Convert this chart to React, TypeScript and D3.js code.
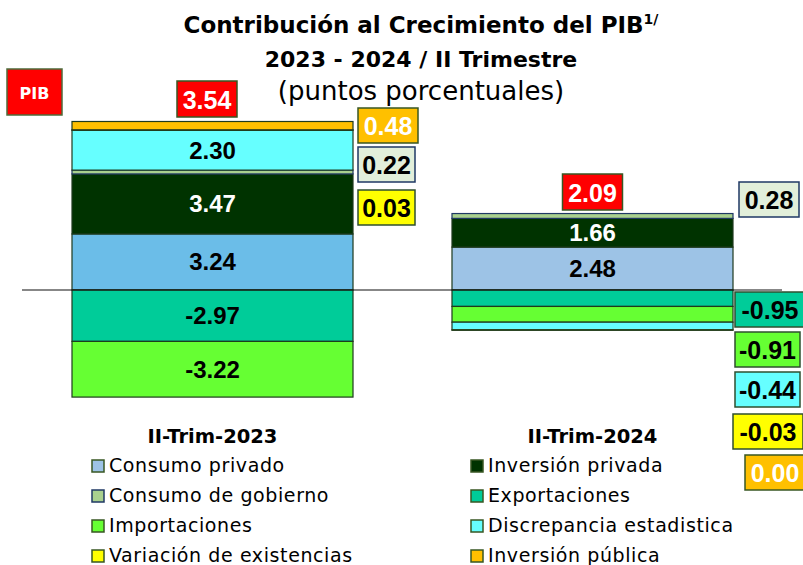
import React from "react";
import * as d3 from "d3";

const categories = ["II-Trim-2023", "II-Trim-2024"];
const seriesKeys = [
  "Consumo privado",
  "Inversión privada",
  "Consumo de gobierno",
  "Exportaciones",
  "Importaciones",
  "Discrepancia estadistica",
  "Variación de existencias",
  "Inversión pública",
];
const consumoPrivado = [3.24, 2.48];
const inversionPrivada = [3.47, 1.66];
const consumoGobierno = [0.22, 0.28];
const exportaciones = [-2.97, -0.95];
const importaciones = [-3.22, -0.91];
const discrepancia = [2.3, -0.44];
const variacion = [0.03, -0.03];
const inversionPublica = [0.48, 0.0];
const pib = [3.54, 2.09];

const legendLeft = ["Consumo privado", "Consumo de gobierno", "Importaciones", "Variación de existencias"];
const legendRight = ["Inversión privada", "Exportaciones", "Discrepancia estadistica", "Inversión pública"];

const fills: Record<string, string> = {
  "Consumo privado": "#9DC3E6",
  "Inversión privada": "#003300",
  "Consumo de gobierno": "#A9D08E",
  "Exportaciones": "#00CC99",
  "Importaciones": "#66FF33",
  "Discrepancia estadistica": "#66FFFF",
  "Variación de existencias": "#FFFF00",
  "Inversión pública": "#FFC000",
};
const barFill2023CP = "#6BBDE8";
const strokes: Record<string, string> = {
  "Consumo de gobierno": "#1F3864",
};

// Labels shown inside segments (series, category index)
const inside: [string, number][] = [
  ["Consumo privado", 0],
  ["Inversión privada", 0],
  ["Discrepancia estadistica", 0],
  ["Exportaciones", 0],
  ["Importaciones", 0],
  ["Consumo privado", 1],
  ["Inversión privada", 1],
];
// Side boxes: series, category index, box x, box y, width
const boxes: [string, number, number, number, number][] = [
  ["Inversión pública", 0, 358, 108, 60],
  ["Consumo de gobierno", 0, 358, 147, 57],
  ["Variación de existencias", 0, 358, 190, 57],
  ["Consumo de gobierno", 1, 739, 182, 60],
  ["Exportaciones", 1, 735, 292, 70],
  ["Importaciones", 1, 735, 332, 65],
  ["Discrepancia estadistica", 1, 735, 372, 65],
  ["Variación de existencias", 1, 733, 414, 70],
  ["Inversión pública", 1, 745, 455, 60],
];

const W = 803;
const H = 565;
const FONT = "'DejaVu Sans', sans-serif";
const NUMFONT = "'Liberation Sans', Arial, sans-serif";

export default function App() {
  const rows = categories.map((c, i) => ({
    cat: c,
    "Consumo privado": consumoPrivado[i],
    "Inversión privada": inversionPrivada[i],
    "Consumo de gobierno": consumoGobierno[i],
    "Exportaciones": exportaciones[i],
    "Importaciones": importaciones[i],
    "Discrepancia estadistica": discrepancia[i],
    "Variación de existencias": variacion[i],
    "Inversión pública": inversionPublica[i],
  }));
  const stack = d3.stack<any>().keys(seriesKeys).offset(d3.stackOffsetDiverging);
  const layers = stack(rows);
  const x = d3.scaleBand().domain(categories).range([72, 733]).paddingInner(0.2605).paddingOuter(0);
  const y = d3.scaleLinear().domain([-7, 11]).range([411.1, 99.7]);
  const bw = x.bandwidth();
  const byKey: Record<string, any> = {};
  layers.forEach((l) => (byKey[l.key] = l));

  const boxStyle = (k: string) => {
    if (k === "Consumo de gobierno") return { fill: "#E2EFDA", stroke: "#1F3864", text: "#000" };
    if (k === "Inversión pública") return { fill: "#FFC000", stroke: "#385723", text: "#fff" };
    return { fill: fills[k], stroke: "#2F4F2F", text: "#000" };
  };

  return (
    <svg width={W} height={H} style={{ position: "absolute", left: 0, top: 0, background: "#fff" }}>
      {/* Title */}
      <text x={421} y={33} textAnchor="middle" fontFamily={FONT} fontWeight="bold" fontSize={23} fill="#000">
        Contribución al Crecimiento del PIB
        <tspan fontSize={14} dy={-9}>1/</tspan>
      </text>
      <text x={421} y={67} textAnchor="middle" fontFamily={FONT} fontWeight="bold" fontSize={22} fill="#000">
        2023 - 2024 / II Trimestre
      </text>
      <text x={421} y={100} textAnchor="middle" fontFamily={FONT} fontSize={26} fill="#000">
        (puntos porcentuales)
      </text>

      {/* Bars */}
      {layers.map((layer) =>
        layer.map((d, i) => {
          const y0 = y(Math.max(d[0], d[1]));
          const y1 = y(Math.min(d[0], d[1]));
          if (y1 - y0 <= 0) return null;
          const k = layer.key;
          const fill = k === "Consumo privado" && i === 0 ? barFill2023CP : fills[k];
          return (
            <rect
              key={k + i}
              x={x(categories[i])}
              y={y0}
              width={bw}
              height={y1 - y0}
              fill={fill}
              stroke={strokes[k] || "#1E3A1E"}
              strokeWidth={1.2}
            />
          );
        })
      )}

      {/* Inside labels */}
      {inside.map(([k, i]) => {
        const d = byKey[k][i];
        const cy = (y(d[0]) + y(d[1])) / 2;
        const v = (d.data as any)[k] as number;
        return (
          <text
            key={"in" + k + i}
            x={(x(categories[i]) as number) + bw / 2}
            y={cy + 8.5}
            textAnchor="middle"
            fontFamily={NUMFONT}
            fontWeight="bold"
            fontSize={24}
            fill={k === "Inversión privada" ? "#fff" : "#000"}
          >
            {v.toFixed(2)}
          </text>
        );
      })}

      {/* Zero line */}
      <line x1={22} x2={782} y1={y(0)} y2={y(0)} stroke="#111" strokeWidth={1.2} />

      {/* Side boxes */}
      {boxes.map(([k, i, bx, by, w]) => {
        const s = boxStyle(k);
        const v = (rows[i] as any)[k] as number;
        return (
          <g key={"bx" + k + i}>
            <rect x={bx} y={by} width={w} height={35} fill={s.fill} stroke={s.stroke} strokeWidth={1.5} />
            <text
              x={bx + w / 2}
              y={by + 26.5}
              textAnchor="middle"
              fontFamily={NUMFONT}
              fontWeight="bold"
              fontSize={25}
              fill={s.text}
            >
              {v.toFixed(2)}
            </text>
          </g>
        );
      })}

      {/* PIB */}
      <rect x={7} y={69} width={55} height={46} fill="#FF0000" stroke="#4E6B3A" strokeWidth={1.5} />
      <text x={34.5} y={99} textAnchor="middle" fontFamily={FONT} fontWeight="bold" fontSize={16} fill="#fff">
        PIB
      </text>
      {pib.map((v, i) => {
        const w = i === 0 ? 60 : 60;
        const cx = (x(categories[i]) as number) + bw / 2 + (i === 0 ? -5.5 : 0);
        const by = i === 0 ? 81 : 174;
        return (
          <g key={"pib" + i}>
            <rect x={cx - w / 2} y={by} width={w} height={36} fill="#FF0000" stroke="#385723" strokeWidth={1.5} />
            <text x={cx} y={by + 27.5} textAnchor="middle" fontFamily={NUMFONT} fontWeight="bold" fontSize={25} fill="#fff">
              {v.toFixed(2)}
            </text>
          </g>
        );
      })}

      {/* Category labels */}
      {categories.map((c) => (
        <text
          key={c}
          x={(x(c) as number) + bw / 2}
          y={443}
          textAnchor="middle"
          fontFamily={FONT}
          fontWeight="bold"
          fontSize={19.5}
          fill="#000"
        >
          {c}
        </text>
      ))}

      {/* Legend */}
      {[legendLeft, legendRight].map((col, ci) =>
        col.map((k, ri) => {
          const sx = ci === 0 ? 92 : 471;
          const base = 472 + ri * 30;
          const sstroke = k === "Consumo de gobierno" ? "#1F3864" : "#385723";
          return (
            <g key={"lg" + k}>
              <rect x={sx} y={base - 12} width={12} height={12} fill={fills[k]} stroke={sstroke} strokeWidth={1.5} />
              <text x={sx + 17} y={base} fontFamily={FONT} fontSize={19} letterSpacing={0.6} fill="#000">
                {k}
              </text>
            </g>
          );
        })
      )}
    </svg>
  );
}
